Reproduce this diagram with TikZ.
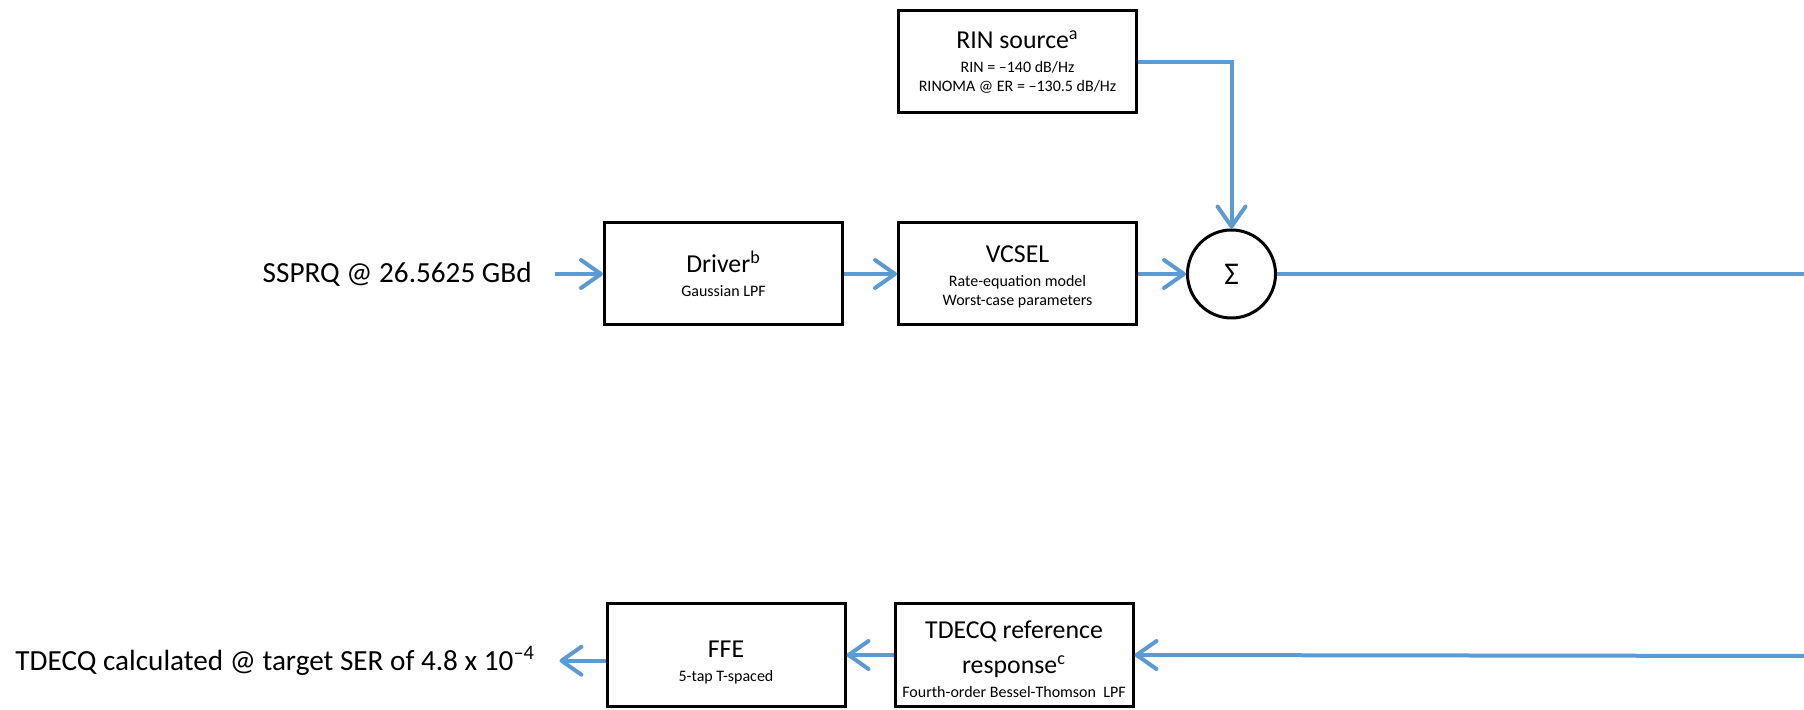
\documentclass[tikz,border=0pt]{standalone}
\usepackage{fontspec}
\setmainfont{Carlito}
\usepackage{xcolor}
\usepackage{tikz}
\usetikzlibrary{arrows.meta}
\usetikzlibrary{positioning}

\definecolor{sigblue}{RGB}{91,155,213}
\newcommand{\bigtxt}{\fontsize{12.9}{9.5}\selectfont}
\newcommand{\smalltxt}{\fontsize{8}{9.5}\selectfont}
\newcommand{\labeltxt}{\fontsize{14.6}{18}\selectfont}

\begin{document}
\begin{tikzpicture}[
  x=0.5pt, y=-0.5pt,
  every node/.style={font=\bigtxt},
  blk/.style={draw, line width=1.5pt, minimum width=119pt, minimum height=51pt, inner sep=0pt, align=center},
  adder/.style={draw, circle, line width=1.5pt, minimum size=44pt, inner sep=0pt, font=\fontsize{15.8}{18}\selectfont},
  lbl/.style={inner sep=0pt, font=\labeltxt},
  sig/.style={draw=sigblue, line width=2pt, -{Straight Barb[length=10pt, width=14pt, round]}},
  wire/.style={draw=sigblue, line width=2pt}
]
\useasboundingbox (0,0) rectangle (1804,710);
\node[blk] (driver) at (723.5,274) {Driver\textsuperscript{b}\\[2.5pt]\smalltxt Gaussian LPF};
\node[blk, right=26.5pt of driver] (vcsel) {\rule{0pt}{11pt}VCSEL\\[2.5pt]\smalltxt Rate-equation model\\\smalltxt Worst-case parameters};
\node[blk, above=53.5pt of vcsel] (rin) {RIN source\textsuperscript{a}\\[2.5pt]\smalltxt RIN = –140 dB/Hz\\\smalltxt RINOMA @ ER = –130.5 dB/Hz};
\node[adder, right=24pt of vcsel] (sum) {Σ};
\node[lbl, anchor=base east] (ssprq) at (532,283) {SSPRQ @ 26.5625 GBd};
\node[blk] (ffe) at (726,655) {\rule{0pt}{16pt}FFE\\[2.5pt]\smalltxt 5-tap T-spaced};
\node[blk, right=23.5pt of ffe] (tdecq) {\rule{0pt}{13pt}TDECQ reference\\[6pt]response\textsuperscript{c}\\[2.5pt]\smalltxt Fourth-order Bessel-Thomson\ \ LPF};
\node[lbl, anchor=base west] (result) at (15,670) {TDECQ calculated @ target SER of 4.8 x 10\textsuperscript{–4}};
\coordinate (outR) at (1804,274);
\coordinate (inR) at (1804,656);

\draw[sig, shorten <=11.5pt] (ssprq.east |- driver.west) -- (driver.west);
\draw[sig] (driver) -- (vcsel);
\draw[sig] (vcsel) -- (sum);
\draw[sig] (rin.east) -| (sum.north);
\draw[wire] (sum.east) -- (outR);
\draw[sig] (inR) -- (tdecq.east);
\draw[sig] (tdecq.west) -- (ffe.east);
\draw[sig, shorten >=12pt] (ffe.west |- result.east) -- (result.east);
\end{tikzpicture}
\end{document}
